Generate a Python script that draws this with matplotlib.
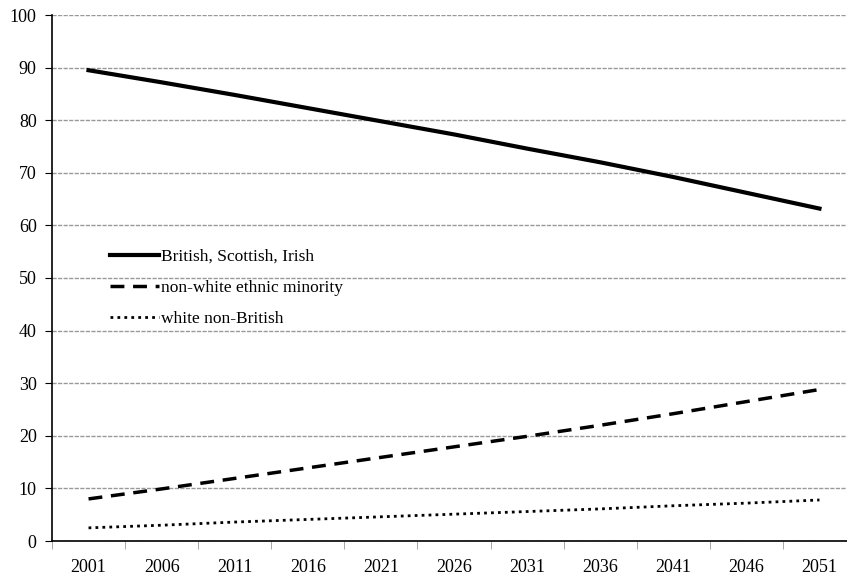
import numpy as np
import matplotlib
matplotlib.use("Agg")
import matplotlib.pyplot as plt

years = ["2001", "2006", "2011", "2016", "2021", "2026", "2031", "2036", "2041", "2046", "2051"]
british = [89.5, 87.2, 84.8, 82.3, 79.8, 77.3, 74.6, 72.0, 69.2, 66.2, 63.2]
non_white = [8.0, 9.9, 11.9, 13.9, 15.9, 17.9, 19.9, 22.0, 24.2, 26.5, 28.8]
white_non_british = [2.5, 3.0, 3.6, 4.1, 4.6, 5.1, 5.6, 6.1, 6.7, 7.2, 7.8]

plt.rcParams['font.family'] = ['Liberation Serif', 'DejaVu Serif']

fig = plt.figure(figsize=(8.47, 5.78), dpi=100)
ax = fig.add_axes([52/847, 1 - 541/578, (856 - 52)/847, (541 - 15)/578])

x = np.arange(len(years))
ax.plot(x, british, color='black', lw=3, ls='-', label='British, Scottish, Irish')
ax.plot(x, non_white, color='black', lw=2.5, ls=(0, (4, 2.5)), label='non-white ethnic minority')
ax.plot(x, white_non_british, color='black', lw=2, ls=(0, (1, 1.5)), label='white non-British')

ax.set_xlim(-0.5, len(years) - 0.5)
ax.set_ylim(0, 100)
ax.set_yticks(range(0, 101, 10))
ax.set_xticks(x)
ax.set_xticklabels(years)
ax.set_xticks(np.arange(-0.5, len(years), 1), minor=True)
ax.tick_params(axis='x', which='major', length=0, labelsize=13, pad=13)
ax.tick_params(axis='x', which='minor', length=6, color='#999999', direction='out')
ax.tick_params(axis='y', length=5, labelsize=13, direction='out', pad=6)

ax.grid(axis='y', color='#999999', lw=1, ls=(0, (3, 1)))
ax.set_axisbelow(True)
for s in ['top', 'right']:
    ax.spines[s].set_visible(False)
ax.spines['left'].set_linewidth(1.2)
ax.spines['bottom'].set_linewidth(1.2)

ax.legend(loc='upper left', bbox_to_anchor=(0.053, 0.585), frameon=False,
          fontsize=12.5, handlelength=2.8, handletextpad=0.1, labelspacing=0.85)

fig.savefig('out.png', dpi=100)
